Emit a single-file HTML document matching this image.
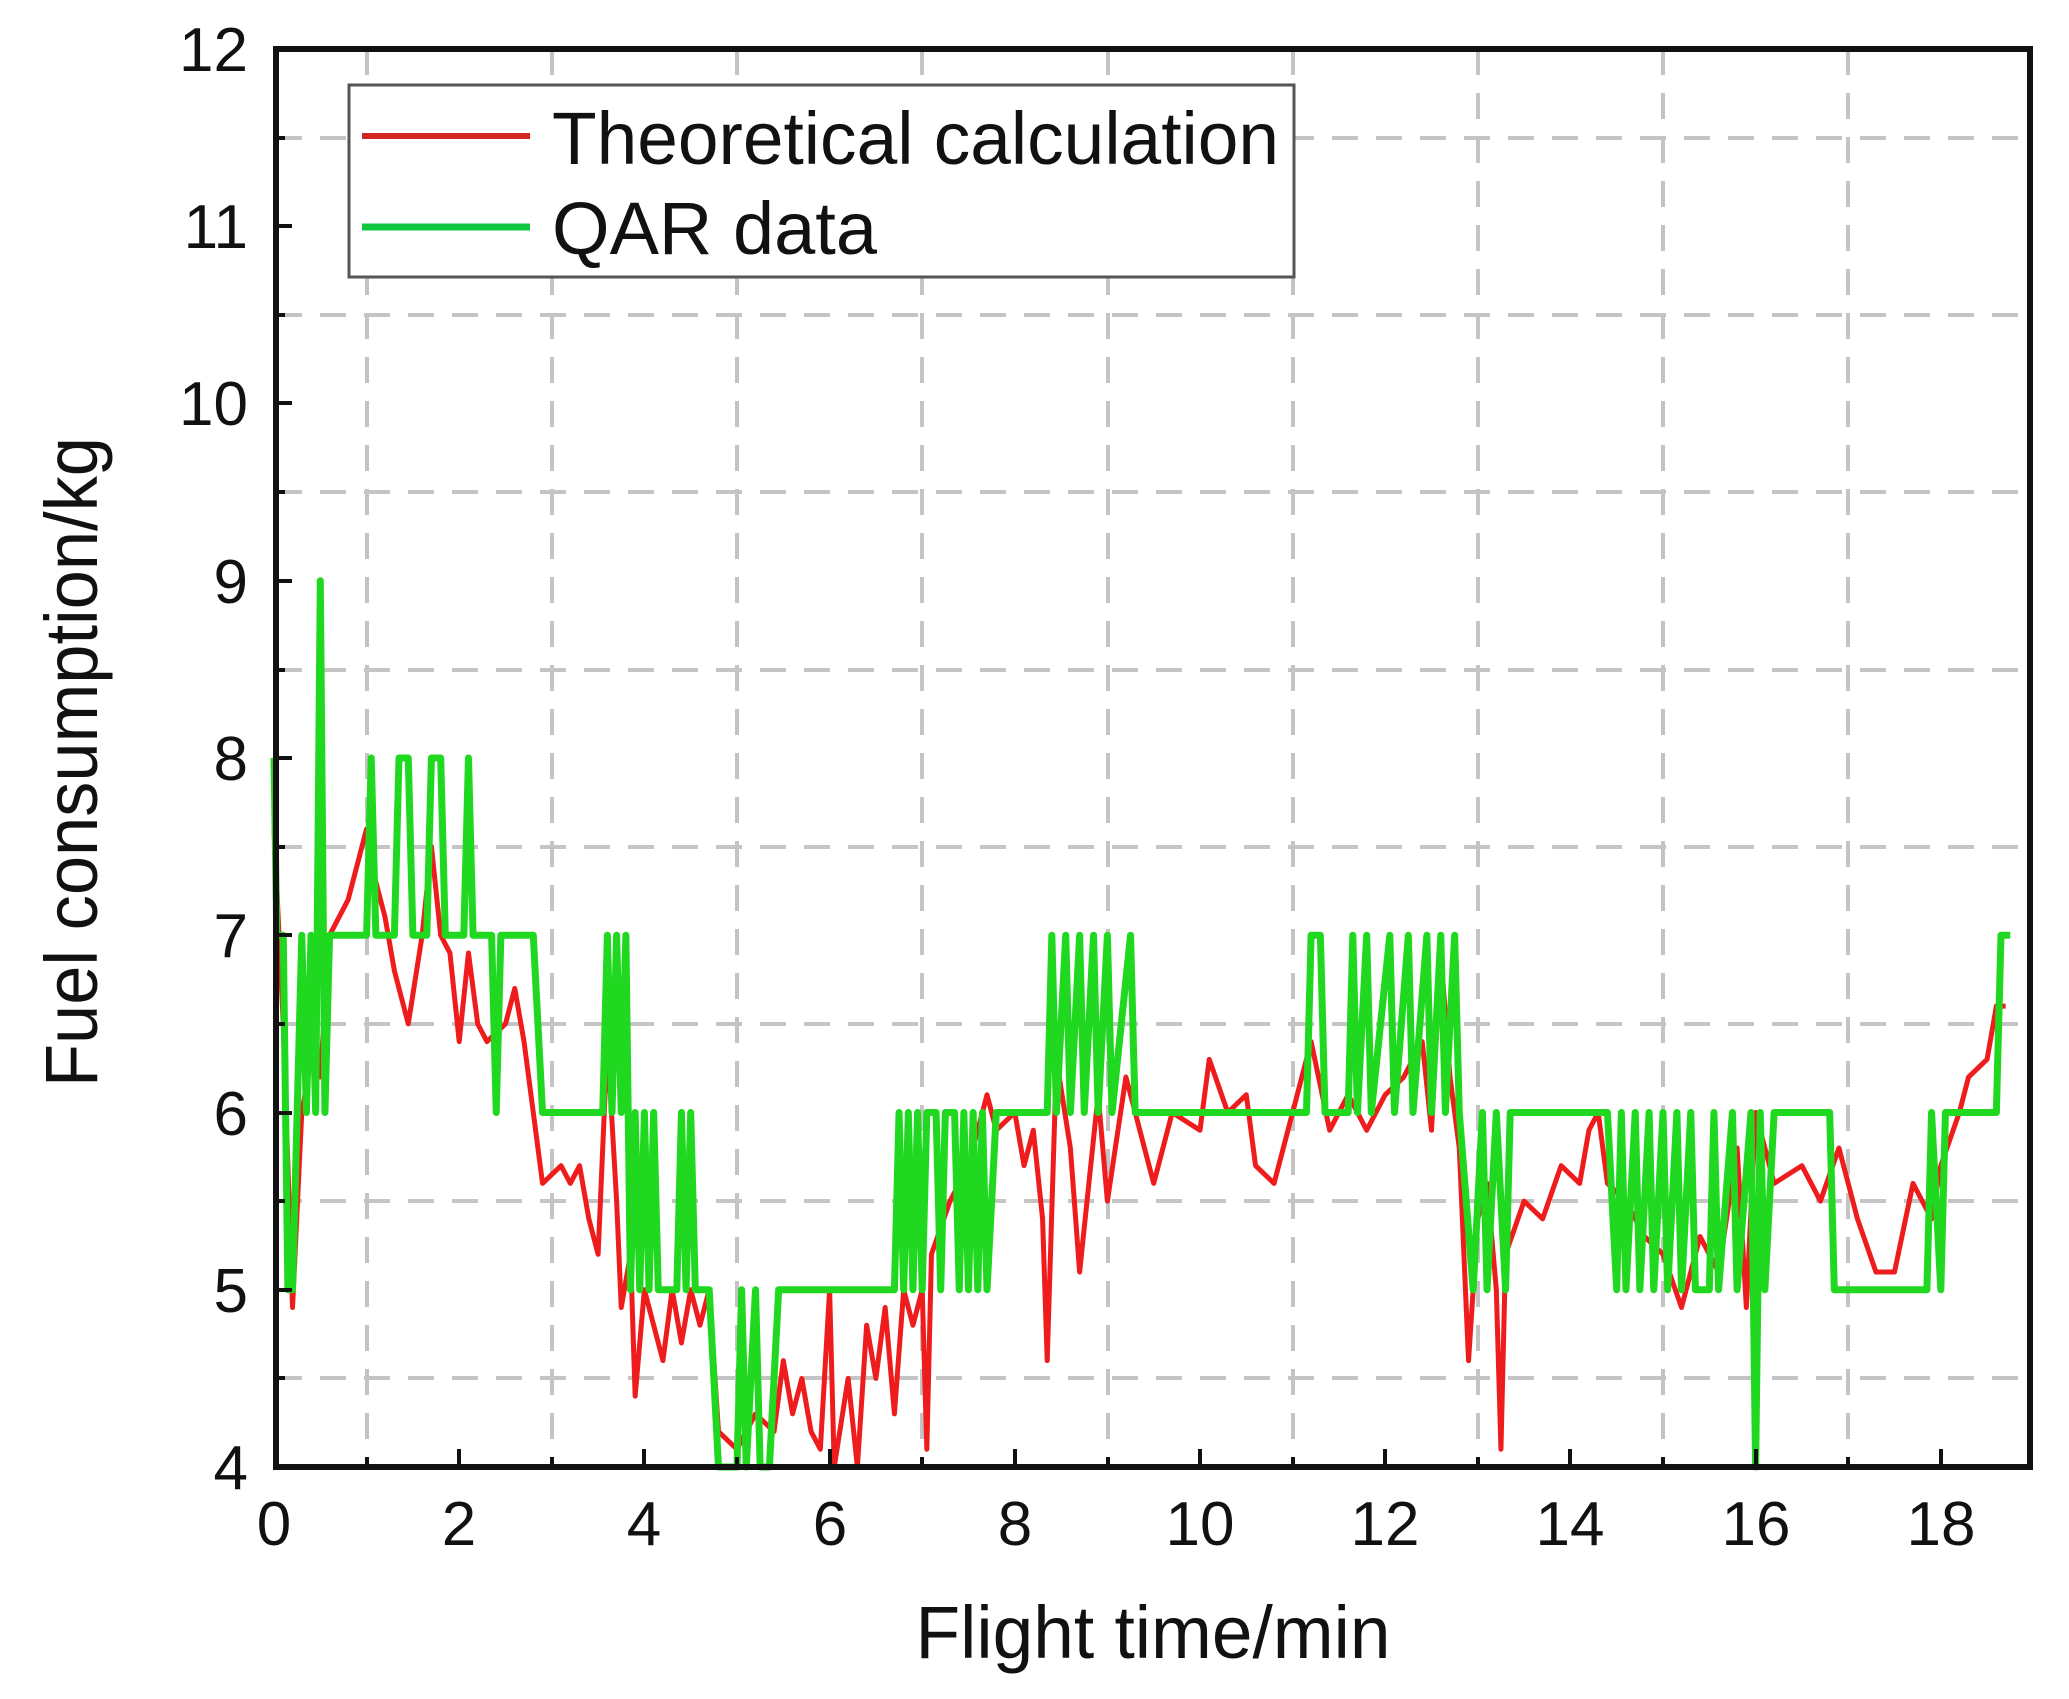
<!DOCTYPE html>
<html><head><meta charset="utf-8"><style>
html,body{margin:0;padding:0;background:#fff;}
svg{display:block;}
text{font-family:"Liberation Sans",sans-serif;fill:#111;}
</style></head><body>
<svg width="2069" height="1699" viewBox="0 0 2069 1699" xmlns="http://www.w3.org/2000/svg">
<rect width="2069" height="1699" fill="#fff"/>
<g stroke="#c4c4c4" stroke-width="4" stroke-dasharray="26,18" fill="none">
<path d="M276 138H2030M276 315H2030M276 492H2030M276 670H2030M276 847H2030M276 1024H2030M276 1201H2030M276 1378H2030"/>
<path d="M367 49V1467M552 49V1467M737 49V1467M922 49V1467M1108 49V1467M1293 49V1467M1478 49V1467M1663 49V1467M1848 49V1467"/>
</g>
<g transform="matrix(92.6 0 0 -177.25 274 2176)" fill="none" stroke-linejoin="round">
<polyline vector-effect="non-scaling-stroke" stroke="#ee1c1c" stroke-width="5" points="0,7.6 0.1,6.5 0.2,4.9 0.3,6 0.4,6.3 0.5,6.2 0.6,7 0.8,7.2 1,7.6 1.1,7.3 1.2,7.1 1.3,6.8 1.45,6.5 1.6,7 1.7,7.5 1.8,7 1.9,6.9 2,6.4 2.1,6.9 2.2,6.5 2.3,6.4 2.5,6.5 2.6,6.7 2.7,6.4 2.9,5.6 3.1,5.7 3.2,5.6 3.3,5.7 3.4,5.4 3.5,5.2 3.6,6.4 3.7,5.5 3.75,4.9 3.85,5.2 3.9,4.4 4,5 4.1,4.8 4.2,4.6 4.3,5 4.4,4.7 4.5,5 4.6,4.8 4.7,5 4.8,4.2 5.0,4.1 5.2,4.3 5.4,4.2 5.5,4.6 5.6,4.3 5.7,4.5 5.8,4.2 5.9,4.1 6,5 6.05,4 6.2,4.5 6.3,4 6.4,4.8 6.5,4.5 6.6,4.9 6.7,4.3 6.8,5 6.9,4.8 7,5 7.05,4.1 7.1,5.2 7.3,5.5 7.5,5.7 7.7,6.1 7.8,5.9 8,6 8.1,5.7 8.2,5.9 8.3,5.4 8.35,4.6 8.45,6.3 8.6,5.8 8.7,5.1 8.9,6.1 9,5.5 9.2,6.2 9.4,5.8 9.5,5.6 9.7,6 10,5.9 10.1,6.3 10.3,6 10.5,6.1 10.6,5.7 10.8,5.6 11,6 11.2,6.4 11.4,5.9 11.6,6.1 11.8,5.9 12,6.1 12.2,6.2 12.4,6.4 12.5,5.9 12.6,6.9 12.7,6.2 12.8,5.8 12.9,4.6 13,5.4 13.1,5.6 13.2,5 13.25,4.1 13.3,5.2 13.5,5.5 13.7,5.4 13.9,5.7 14.1,5.6 14.2,5.9 14.3,6 14.4,5.6 14.6,5.5 14.8,5.3 15,5.2 15.2,4.9 15.4,5.3 15.6,5.1 15.8,5.8 15.9,4.9 16,6 16.2,5.6 16.5,5.7 16.7,5.5 16.9,5.8 17.1,5.4 17.3,5.1 17.5,5.1 17.7,5.6 17.9,5.4 18,5.7 18.2,6 18.3,6.2 18.5,6.3 18.6,6.6 18.7,6.6"/>
<polyline vector-effect="non-scaling-stroke" stroke="#1fd81f" stroke-width="7" points="0,8 0.03,7 0.1,7 0.15,5 0.2,5 0.25,6 0.3,7 0.35,6 0.4,7 0.45,6 0.5,9 0.55,6 0.6,7 1,7 1.05,8 1.1,7 1.3,7 1.35,8 1.45,8 1.5,7 1.65,7 1.7,8 1.8,8 1.85,7 2.05,7 2.1,8 2.15,7 2.35,7 2.4,6 2.45,7 2.8,7 2.9,6 3.55,6 3.6,7 3.65,6 3.7,7 3.75,6 3.8,7 3.85,5 3.9,6 3.95,5 4,6 4.05,5 4.1,6 4.15,5 4.35,5 4.4,6 4.45,5 4.5,6 4.55,5 4.7,5 4.8,4 5,4 5.05,5 5.1,4 5.2,5 5.25,4 5.35,4 5.45,5 6.7,5 6.75,6 6.8,5 6.85,6 6.9,5 6.95,6 7,5 7.05,6 7.15,6 7.2,5 7.25,6 7.35,6 7.4,5 7.45,6 7.5,5 7.55,6 7.6,5 7.65,6 7.7,5 7.8,6 8.35,6 8.4,7 8.45,6 8.55,7 8.6,6 8.7,7 8.75,6 8.85,7 8.9,6 9,7 9.05,6 9.25,7 9.3,6 11.15,6 11.2,7 11.3,7 11.35,6 11.6,6 11.65,7 11.7,6 11.8,7 11.85,6 12.05,7 12.1,6 12.25,7 12.3,6 12.45,7 12.5,6 12.6,7 12.65,6 12.75,7 12.8,6 12.95,5 13.05,6 13.1,5 13.2,6 13.3,5 13.35,6 14.4,6 14.5,5 14.55,6 14.6,5 14.7,6 14.75,5 14.85,6 14.9,5 15,6 15.05,5 15.15,6 15.2,5 15.3,6 15.35,5 15.5,5 15.55,6 15.6,5 15.75,6 15.8,5 15.95,6 16,4 16.05,6 16.1,5 16.2,6 16.8,6 16.85,5 17.85,5 17.9,6 18,5 18.05,6 18.6,6 18.65,7 18.75,7"/>
</g>
<g stroke="#111" stroke-width="4">
<path d="M276 49h16M276 226h16M276 403h16M276 581h16M276 758h16M276 935h16M276 1113h16M276 1290h16"/>
<path d="M276 138h9M276 315h9M276 492h9M276 670h9M276 847h9M276 1024h9M276 1201h9M276 1378h9"/>
<path d="M459 1467v-18M644 1467v-18M830 1467v-18M1015 1467v-18M1200 1467v-18M1385 1467v-18M1570 1467v-18M1756 1467v-18M1941 1467v-18"/>
<path d="M367 1467v-10M552 1467v-10M737 1467v-10M922 1467v-10M1108 1467v-10M1293 1467v-10M1478 1467v-10M1663 1467v-10M1848 1467v-10"/>
</g>
<rect x="276" y="49" width="1754" height="1418" fill="none" stroke="#111" stroke-width="6"/>
<rect x="349" y="85" width="945" height="192" fill="#fff" stroke="#555" stroke-width="3"/>
<line x1="362" y1="136" x2="530" y2="136" stroke="#d42525" stroke-width="6"/>
<line x1="362" y1="227" x2="530" y2="227" stroke="#10c840" stroke-width="7"/>
<text x="552" y="164" font-size="74" textLength="727" lengthAdjust="spacingAndGlyphs">Theoretical calculation</text>
<text x="552" y="254" font-size="74" textLength="325" lengthAdjust="spacingAndGlyphs">QAR data</text>
<g font-size="62" text-anchor="end">
<text x="248" y="71">12</text><text x="248" y="248">11</text><text x="248" y="425">10</text><text x="248" y="603">9</text><text x="248" y="780">8</text><text x="248" y="957">7</text><text x="248" y="1135">6</text><text x="248" y="1312">5</text><text x="248" y="1489">4</text>
</g>
<g font-size="62" text-anchor="middle">
<text x="274" y="1545">0</text><text x="459" y="1545">2</text><text x="644" y="1545">4</text><text x="830" y="1545">6</text><text x="1015" y="1545">8</text><text x="1200" y="1545">10</text><text x="1385" y="1545">12</text><text x="1570" y="1545">14</text><text x="1756" y="1545">16</text><text x="1941" y="1545">18</text>
</g>
<text x="1153" y="1658" font-size="74" text-anchor="middle" textLength="475" lengthAdjust="spacingAndGlyphs">Flight time/min</text>
<text transform="translate(97,762) rotate(-90)" font-size="74" text-anchor="middle" textLength="650" lengthAdjust="spacingAndGlyphs">Fuel consumption/kg</text>
</svg>
</body></html>
